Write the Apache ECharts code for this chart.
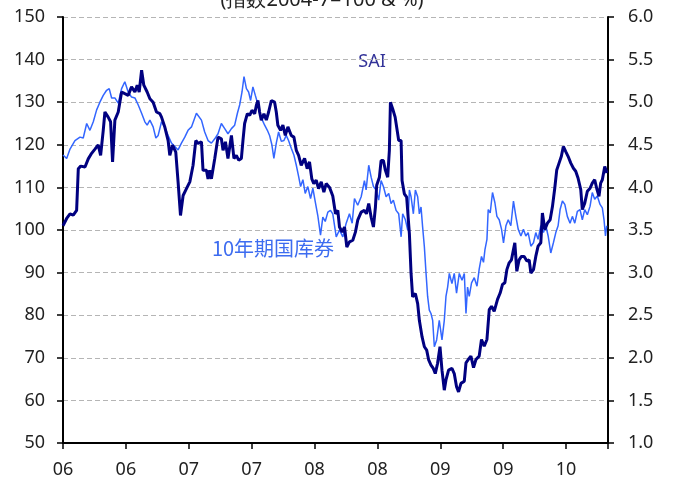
<!DOCTYPE html>
<html><head><meta charset="utf-8">
<script src="https://cdn.jsdelivr.net/npm/echarts@6/dist/echarts.min.js"></script>
<style>html,body{margin:0;padding:0;background:#fff}#c{width:677px;height:483px}</style>
</head><body><div id="c"></div>
<script>
// x = months since Jan 2006
const xTickYears = ['06','06','07','07','08','08','09','09','10'];
const leftTicks = [50,60,70,80,90,100,110,120,130,140,150];
const rightTicks = [1.0,1.5,2.0,2.5,3.0,3.5,4.0,4.5,5.0,5.5,6.0];
const titleText = '(指数2004-7=100 & %)';
const saiName = 'SAI';
const bondName = '10年期国库券';

// SAI index (2004-7 = 100), [month, value]
const sai = [
[0,101],[0.35,102.7],[0.67,103.8],[0.98,103.5],[1.30,104.6],[1.46,114.4],[1.69,115],[2.10,114.8],[2.41,116.7],[2.73,118],
[3.05,119],[3.36,120],[3.59,117.5],[3.84,123.4],[4.00,127.7],[4.31,126.5],[4.54,125.4],[4.73,116],[4.95,125.8],[5.27,127.7],
[5.59,132.4],[5.90,132],[6.22,131.6],[6.54,133.6],[6.86,132.4],[7.08,134],[7.27,132.4],[7.50,137.5],[7.71,134],[8.03,132.4],
[8.29,130.8],[8.60,130],[8.92,127.7],[9.24,127.3],[9.40,126.5],[9.71,124.2],[10.03,121],[10.19,117.5],[10.45,119.9],[10.76,118.3],
[10.98,111.3],[11.21,103.4],[11.46,108.1],[11.78,109.7],[12.10,111.3],[12.41,115.2],[12.67,121],[12.89,120.3],[13.21,120.7],[13.36,114],
[13.69,114],[13.84,112],[14.00,114],[14.16,112],[14.48,116.8],[14.79,121.8],[15.11,121.4],[15.27,118.7],[15.50,120.7],[15.74,116.8],
[16.07,122.2],[16.31,116.8],[16.54,117.5],[16.76,116.4],[17.02,116.8],[17.17,121],[17.33,125],[17.59,127.3],[17.81,126.9],[18.03,128.1],
[18.29,127.3],[18.45,129.3],[18.60,130.4],[18.76,127.7],[18.92,125.8],[19.17,127.3],[19.40,125.8],[19.62,127.7],[19.88,130.4],[20.19,130],
[20.35,127.7],[20.50,124.6],[20.76,123.4],[20.98,124.6],[21.21,122.2],[21.46,124.2],[21.78,122.2],[22.03,121.8],[22.26,118.7],[22.48,117.5],
[22.73,115.2],[23.05,116.8],[23.30,114.4],[23.52,116],[23.74,112],[23.93,110.9],[24.16,111.7],[24.38,109.7],[24.64,111.3],[24.89,108.9],
[25.11,110.9],[25.43,110],[25.74,108],[26.00,103.8],[26.22,104.6],[26.38,100.7],[26.64,99.5],[26.86,100.7],[27.08,96],[27.33,97.2],
[27.65,97.6],[27.90,99.5],[28.12,102.3],[28.45,104.2],[28.76,104.6],[28.95,103.8],[29.17,106.2],[29.40,103],[29.62,100.7],[29.81,105.4],
[29.93,110.5],[30.19,112.4],[30.35,116.3],[30.57,116.3],[30.76,114],[30.98,112.4],[31.14,118.7],[31.24,130],[31.46,128.4],[31.69,126.5],
[31.88,126.5],[32.03,121],[32.26,121],[32.35,111.6],[32.57,108.5],[32.79,107.7],[33.05,99.1],[33.21,89.8],[33.36,84.3],[33.62,85.1],
[33.84,82.7],[34.00,78.8],[34.26,74.9],[34.48,72.6],[34.70,71.8],[34.89,69.5],[35.11,68.3],[35.33,67.5],[35.52,66.3],[35.74,68.7],
[35.97,72.6],[36.16,67.1],[36.38,62.4],[36.54,64.8],[36.79,67.1],[37.11,67.5],[37.33,66.3],[37.55,63.2],[37.74,62],[37.97,64],
[38.29,64.5],[38.45,68.8],[38.67,69.6],[38.92,70.4],[39.17,67.7],[39.40,69.6],[39.71,70.4],[39.93,74.3],[40.19,72.7],[40.45,74.3],
[40.67,81.3],[40.89,82.1],[41.14,80.9],[41.46,83.7],[41.71,85.2],[41.93,87.2],[42.16,87.6],[42.35,90.7],[42.57,92.3],[42.79,93],
[42.98,95.4],[43.11,97],[43.30,90.3],[43.52,93],[43.74,93.8],[44.00,93.8],[44.26,92.7],[44.48,93],[44.64,89.9],[44.89,90.7],
[45.11,93.8],[45.33,96.2],[45.59,97],[45.74,104],[45.97,100.1],[46.22,101.6],[46.48,102.4],[46.70,105.5],[46.92,109.8],[47.11,114.1],
[47.33,115.7],[47.55,117.3],[47.74,119.6],[47.97,118.4],[48.19,117.3],[48.45,115.7],[48.70,114.5],[48.92,113.8],[49.14,112.2],[49.40,109.5],
[49.55,104.8],[49.78,106.3],[50.03,109.1],[50.29,109.8],[50.50,111],[50.73,111.8],[50.92,109.8],[51.14,107.9],[51.30,111],[51.46,111.8],
[51.69,114.9],[51.90,113.4]
];

// 10-year Treasury yield (%), [month, value]
const bond = [
[0,4.38],[0.35,4.34],[0.67,4.45],[1.14,4.55],[1.62,4.59],[1.93,4.58],[2.26,4.75],[2.57,4.67],[2.89,4.77],[3.21,4.91],
[3.52,5.00],[3.84,5.08],[4.16,5.14],[4.41,5.16],[4.64,5.05],[4.95,5.05],[5.27,4.99],[5.59,5.16],[5.90,5.24],[6.22,5.12],
[6.54,5.06],[6.86,5.05],[7.17,4.97],[7.50,4.87],[7.81,4.77],[8.03,4.73],[8.29,4.79],[8.60,4.71],[8.86,4.58],[9.08,4.61],
[9.40,4.77],[9.71,4.71],[10.03,4.61],[10.35,4.52],[10.67,4.48],[10.98,4.44],[11.30,4.52],[11.62,4.59],[11.93,4.67],[12.26,4.71],
[12.73,4.87],[12.89,4.89],[13.21,4.79],[13.52,4.65],[13.84,4.55],[14.16,4.52],[14.48,4.57],[14.79,4.63],[15.11,4.75],[15.43,4.69],
[15.74,4.63],[16.07,4.69],[16.38,4.73],[16.64,4.87],[16.86,4.97],[17.08,5.12],[17.27,5.30],[17.50,5.16],[17.71,5.12],[17.90,5.02],
[18.12,5.18],[18.35,5.08],[18.54,5.00],[18.76,4.87],[19.02,4.79],[19.24,4.73],[19.50,4.67],[19.71,4.61],[19.93,4.50],[20.12,4.34],
[20.35,4.52],[20.57,4.65],[20.83,4.54],[21.08,4.55],[21.30,4.61],[21.52,4.55],[21.78,4.46],[22.03,4.38],[22.26,4.26],[22.48,4.13],
[22.67,4.01],[22.89,4.09],[23.11,3.93],[23.36,4.01],[23.62,3.87],[23.84,3.99],[24.07,3.83],[24.31,3.67],[24.57,3.44],[24.79,3.65],
[25.02,3.60],[25.27,3.71],[25.52,3.73],[25.74,3.69],[26.07,3.42],[26.38,3.50],[26.70,3.42],[27.02,3.58],[27.33,3.69],[27.59,3.58],
[27.81,3.87],[28.12,3.79],[28.45,3.89],[28.76,4.08],[28.92,3.97],[29.17,4.26],[29.40,4.12],[29.62,4.01],[29.88,3.97],[30.12,3.85],
[30.35,4.08],[30.57,4.01],[30.83,3.89],[31.08,3.93],[31.30,3.81],[31.52,3.85],[31.78,3.73],[32.03,3.69],[32.26,3.42],[32.41,3.69],
[32.67,3.62],[32.89,3.50],[33.05,3.97],[33.21,3.89],[33.43,3.69],[33.62,3.97],[33.84,3.89],[34.00,3.69],[34.16,3.77],[34.31,3.54],
[34.48,3.30],[34.64,2.99],[34.79,2.72],[34.95,2.56],[35.11,2.52],[35.27,2.44],[35.43,2.13],[35.65,2.21],[35.90,2.44],[36.16,2.21],
[36.38,2.44],[36.54,2.72],[36.70,2.83],[36.86,2.99],[37.11,2.87],[37.33,2.99],[37.55,2.76],[37.81,2.99],[38.07,2.91],[38.29,2.99],
[38.45,2.52],[38.60,2.83],[38.76,2.72],[38.98,2.88],[39.24,2.94],[39.50,2.84],[39.71,3.04],[39.93,3.19],[40.12,3.12],[40.26,3.27],
[40.45,3.39],[40.57,3.74],[40.76,3.70],[40.98,3.94],[41.21,3.82],[41.40,3.66],[41.62,3.62],[41.84,3.51],[42.03,3.35],[42.26,3.55],
[42.48,3.62],[42.73,3.55],[42.98,3.84],[43.21,3.66],[43.43,3.51],[43.69,3.43],[43.93,3.51],[44.16,3.43],[44.38,3.47],[44.64,3.31],
[44.89,3.35],[45.11,3.47],[45.33,3.39],[45.59,3.55],[45.84,3.47],[46.07,3.55],[46.29,3.43],[46.54,3.23],[46.79,3.35],[47.02,3.47],
[47.24,3.55],[47.43,3.74],[47.65,3.84],[47.88,3.80],[48.12,3.66],[48.38,3.58],[48.60,3.66],[48.83,3.58],[49.08,3.72],[49.33,3.74],
[49.55,3.62],[49.78,3.74],[50.03,3.68],[50.29,3.78],[50.50,3.94],[50.73,3.86],[50.98,3.90],[51.24,3.80],[51.46,3.76],[51.62,3.62],
[51.76,3.43],[51.88,3.55]
];

const FONT = 'Noto Sans';
const chart = echarts.init(document.getElementById('c'), null, {renderer:'canvas'});
chart.setOption({
  animation: false,
  backgroundColor: '#ffffff',
  grid: {left: 63, right: 69, top: 17, bottom: 40, containLabel: false},
  graphic: [
    {type:'text', style:{text: titleText, x: 322, y: 0, textAlign:'center', textVerticalAlign:'middle', font: '20px "Noto Sans"', fill:'#222'}},
    {type:'text', style:{text: saiName, x: 372, y: 62, textAlign:'center', textVerticalAlign:'middle', font: '18px "Noto Sans"', fill:'#333399'}},
    {type:'text', style:{text: bondName, x: 273, y: 248, textAlign:'center', textVerticalAlign:'middle', font: '20px "Noto Sans CJK SC"', fill:'#3d6cf0'}}
  ],
  xAxis: {
    type: 'value', min: 0, max: 52, interval: 6,
    axisLine: {show: true, lineStyle: {color: '#000', width: 2}},
    axisTick: {show: true, length: 6, lineStyle: {color: '#000', width: 1.5}},
    axisLabel: {margin: 18, color: '#222', fontFamily: FONT, fontSize: 18,
      formatter: v => (v % 6 === 0 && v/6 < xTickYears.length) ? xTickYears[v/6] : ''},
    splitLine: {show: false}
  },
  yAxis: [
    {type: 'value', min: leftTicks[0], max: leftTicks[leftTicks.length-1], interval: 10, position: 'left',
     axisLine: {show: true, lineStyle: {color: '#000', width: 2}},
     axisTick: {show: true, length: 6, lineStyle: {color: '#000', width: 1.5}},
     axisLabel: {margin: 18, color: '#222', fontFamily: FONT, fontSize: 18},
     splitLine: {show: true, lineStyle: {color: '#b5b5b5', type: [5,3], width: 1}}},
    {type: 'value', min: rightTicks[0], max: rightTicks[rightTicks.length-1], interval: 0.5, position: 'right',
     axisLine: {show: true, lineStyle: {color: '#000', width: 2}},
     axisTick: {show: true, length: 6, inside: false, lineStyle: {color: '#000', width: 1.5}},
     axisLabel: {margin: 20, color: '#222', fontFamily: FONT, fontSize: 18, formatter: v => v.toFixed(1)},
     splitLine: {show: false}}
  ],
  series: [
    {name: bondName, type: 'line', yAxisIndex: 1, data: bond, showSymbol: false, symbol: 'none',
     lineStyle: {color: '#3366ff', width: 1.5}, z: 2},
    {name: saiName, type: 'line', yAxisIndex: 0, data: sai, showSymbol: false, symbol: 'none',
     lineStyle: {color: '#000080', width: 3}, z: 3}
  ]
});
</script></body></html>
